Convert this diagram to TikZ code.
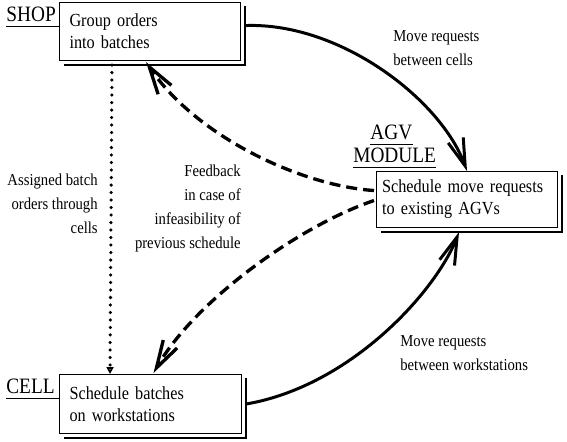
\documentclass[tikz,border=0pt]{standalone}
\usepackage{fontspec}
\setmainfont{Liberation Serif}[FakeStretch=0.88]
\usetikzlibrary{arrows.meta,calc}

\begin{document}
\begin{tikzpicture}[x=0.02cm,y=-0.02cm]
		\tikzset{> = {Straight Barb[length=0.55cm,width=0.32cm]},
			task/.style = {draw,line width=0.6pt,fill=white,anchor=north west,inner xsep=0.2cm,
				align=left,font=\fontsize{10.5}{12.5}\selectfont},
			level/.style = {inner xsep=0pt,inner ysep=3pt,font=\fontsize{12.5}{14}\selectfont},
			note/.style = {inner sep=0pt,font=\fontsize{9.5}{13.5}\selectfont},
			flow/.style = {->,line width=1.7pt},
			back/.style = {->,line width=1.9pt,dash pattern=on 0.22cm off 0.12cm},
			assign/.style = {-{Triangle[open,length=0.14cm,width=0.14cm,line width=1pt]},line width=2pt,
				line cap=round,dash pattern=on 0pt off 0.15cm}}
		\useasboundingbox (0,0) rectangle (567,441);
		% the three planning levels
		\node[task,text width=3.22cm,minimum height=1.16cm] (shop) at (59,2) {Group orders\\into batches};
		\node[task,inner xsep=0.11cm,text width=3.4cm,minimum height=1.12cm] (agv) at (376,171) {Schedule move requests\\to existing AGVs};
		\node[task,text width=3.24cm,minimum height=1.18cm] (cell) at (59,374) {Schedule batches\\on workstations};
		\foreach \b in {shop,agv,cell}
			\draw [line width=1.1pt] ($(\b.north east)+(4,4)$) -- ($(\b.south east)+(4,4)$) -- ($(\b.south west)+(5,4)$);
		\node[level,anchor=base west] (shoplbl) at (6,21) {SHOP};
		\node[level,anchor=base west] (celllbl) at (6,393) {CELL};
		\node[level,anchor=base west] (modlbl) at (353,162) {MODULE};
		\node[level,anchor=base west] (agvlbl) at (370,139) {AGV};
		\draw [line width=0.6pt] (shoplbl.south west) -- (shoplbl.south west -| shop.west);
		\draw [line width=0.6pt] (celllbl.south west) -- (celllbl.south west -| cell.west);
		\draw [line width=0.6pt] (modlbl.south west) -- (modlbl.south east);
		\draw [line width=0.6pt] (agvlbl.south west) -- (agvlbl.south east);
		% connectors
		\draw[flow] ($(shop.east)+(5,-6)$) .. controls +(95,-3) and +(-26,-71) .. (agv.north);
		\draw[flow] ($(cell.east)+(4,0)$) .. controls +(105,-18) and +(-23,59) .. ($(agv.south)+(-8,4)$);
		\draw[assign] ($(shop.south west)+(53,4)$) -- ($(cell.north west)+(51,0)$);
		\draw[back] ($(agv.west)+(-2,-9)$) .. controls +(-74,-5) and +(50,74) .. ($(shop.south)+(-4,1)$);
		\draw[back] ($(agv.west)+(-2,1)$) .. controls +(-74,25) and +(42,-73) .. ($(cell.north)+(3,-1)$);
		% texts on the connectors
		\node[note,anchor=north west,align=left] (cellmoves) at (393,30) {Move requests\\between cells};
		\node[note,anchor=north west,align=left] (wsmoves) at (400,335) {Move requests\\between workstations};
		\node[note,anchor=north east,align=right] (assigned) at (98,174) {Assigned batch\\orders through\\cells};
		\node[note,anchor=north east,align=right] (feedback) at (241,165) {Feedback\\in case of\\infeasibility of\\previous schedule};
	\end{tikzpicture}
\end{document}
